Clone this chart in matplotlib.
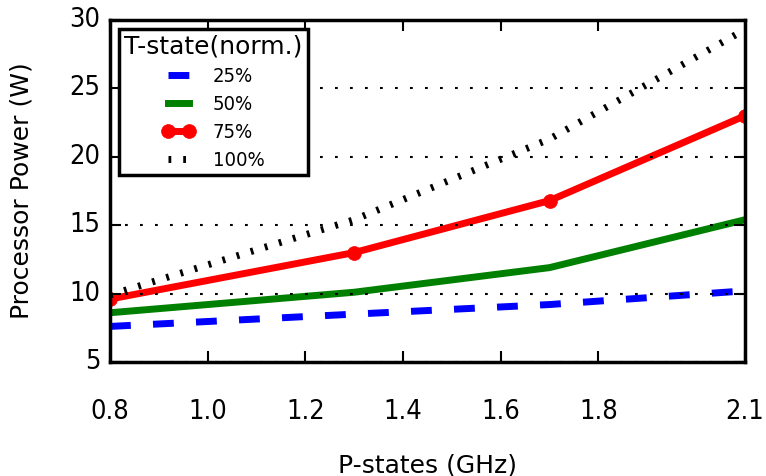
import matplotlib
matplotlib.use('Agg')
import matplotlib.pyplot as plt

# P-states (GHz) and power per T-state
pstates = [0.8, 1.3, 1.7, 2.1]
t25 = [7.6, 8.5, 9.2, 10.2]
t50 = [8.6, 10.1, 11.9, 15.4]
t75 = [9.6, 13.0, 16.8, 23.0]
t100 = [9.9, 15.4, 21.3, 29.3]

xticks = [0.8, 1.0, 1.2, 1.4, 1.6, 1.8, 2.1]
yticks = [5, 10, 15, 20, 25, 30]

plt.style.use('classic')
plt.rcParams['font.family'] = ['DejaVu Sans']

fig = plt.figure(figsize=(7.66, 4.76), dpi=100)
fig.patch.set_facecolor('white')
ax = fig.add_axes([0.1436, 0.2395, 0.829, 0.7185])

ax.plot(pstates, t25, color='blue', lw=5, ls=(0, (15, 16)), label='25%')
ax.plot(pstates, t50, color='green', lw=5, label='50%')
ax.plot(pstates, t75, color='red', lw=5, marker='o', markersize=10,
        markeredgecolor='red', label='75%')
ax.plot(pstates, t100, color='black', lw=5, ls=(0, (2, 8.6)), label='100%')

ax.set_xlim(0.8, 2.1)
ax.set_ylim(5, 30)
ax.set_xticks(xticks)
ax.set_xticklabels([f'{v:.1f}' for v in xticks], fontstretch='condensed')
ax.set_yticks(yticks)
ax.set_yticklabels([str(v) for v in yticks], fontstretch='condensed')
ax.tick_params(axis='x', labelsize=19.5, pad=27, length=8, width=1.5)
ax.tick_params(axis='y', labelsize=19.5, pad=7, length=8, width=1.5)
ax.yaxis.grid(True, color='black', ls=(0, (2, 8.8)), lw=1.5)
for s in ax.spines.values():
    s.set_linewidth(2.5)

ax.set_xlabel('P-states (GHz)', fontsize=18, labelpad=20)
ax.set_ylabel('Processor Power (W)', fontsize=18, labelpad=26)

leg = ax.legend(loc='upper left', title='T-state(norm.)',
                prop={'size': 14.5, 'stretch': 'condensed'},
                handlelength=1.65, handletextpad=0.85, labelspacing=0.45,
                borderaxespad=0.45, borderpad=0.25, numpoints=2)
leg.get_title().set_fontsize(18)
leg.get_frame().set_linewidth(2.5)

plt.savefig('out.png', dpi=100, facecolor='white')
